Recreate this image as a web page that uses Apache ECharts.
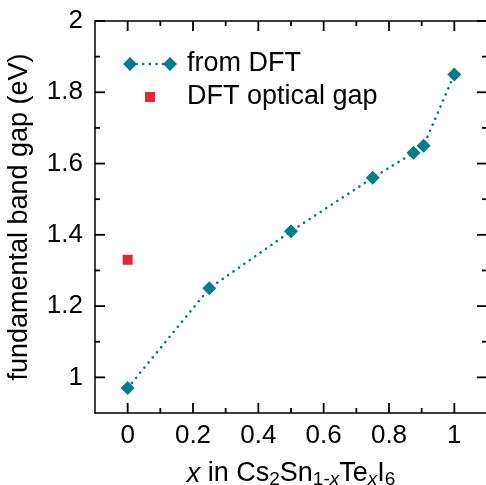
<!DOCTYPE html>
<html>
<head>
<meta charset="utf-8">
<script src="https://cdn.jsdelivr.net/npm/echarts@6/dist/echarts.min.js"></script>
<style>
html,body{margin:0;padding:0;background:#fff;}
#chart{width:486px;height:485px;}
</style>
</head>
<body>
<div id="chart"></div>
<script>
// ---- data ----
var xComposition = [0, 0.25, 0.5, 0.75, 0.875, 0.906, 1];
var gapFromDFT = [0.97, 1.25, 1.41, 1.56, 1.63, 1.65, 1.85];
var opticalX = [0];
var opticalGap = [1.33];
var xMajorTicks = [0, 0.2, 0.4, 0.6, 0.8, 1];
var xMinorTicks = [0.1, 0.3, 0.5, 0.7, 0.9];
var yMajorTicks = [1, 1.2, 1.4, 1.6, 1.8, 2];
var yMinorTicks = [1.1, 1.3, 1.5, 1.7, 1.9];
var seriesNames = ['from DFT', 'DFT optical gap'];

var X_MIN = -0.1, X_MAX = 1.1, Y_MIN = 0.9, Y_MAX = 2;
var TEAL = '#067c89';
var RED = '#e3263b';
var FONT = 'Liberation Sans, Arial, Helvetica, sans-serif';
var FS = 26;
var FS_NAME = 27;
var DOTS = [0.1, 6.5];
var MAJOR_LEN = 10, MINOR_LEN = 5, TICK_W = 1.8;

function lineOnly(){ return {show: true, onZero: false, lineStyle: {color: '#000', width: 1.5}}; }

var chart = echarts.init(document.getElementById('chart'), null, {renderer: 'canvas'});

var legendGraphic = [
  {type: 'line', z: 100, shape: {x1: 130, y1: 64, x2: 170, y2: 64}, style: {stroke: TEAL, lineWidth: 2.6, lineDash: DOTS, lineCap: 'round'}},
  {type: 'polygon', z: 100, shape: {points: [[130, 57], [137, 64], [130, 71], [123, 64]]}, style: {fill: TEAL}},
  {type: 'polygon', z: 100, shape: {points: [[170, 57], [177, 64], [170, 71], [163, 64]]}, style: {fill: TEAL}},
  {type: 'text', z: 100, left: 187, top: 50, style: {text: seriesNames[0], fontSize: FS_NAME, fontFamily: FONT, fill: '#000'}},
  {type: 'rect', z: 100, shape: {x: 145, y: 92, width: 10, height: 10}, style: {fill: RED}},
  {type: 'text', z: 100, left: 187, top: 83, style: {text: seriesNames[1], fontSize: FS_NAME, fontFamily: FONT, fill: '#000'}}
];

var option = {
  animation: false,
  backgroundColor: '#fff',
  grid: {left: 95, top: 21, width: 392, height: 392, containLabel: false, outerBoundsMode: 'none'},
  xAxis: [
    {
      type: 'value', position: 'bottom', min: X_MIN, max: X_MAX,
      axisLine: lineOnly(), axisTick: {show: false}, splitLine: {show: false},
      axisLabel: {show: true, customValues: xMajorTicks, fontSize: FS, fontFamily: FONT, color: '#000', margin: 10},
      name: '{i|x} in Cs{s|2}Sn{s|1-}{si|x}Te{si|x}I{s|6}',
      nameLocation: 'middle', nameGap: 46,
      nameTextStyle: {
        fontSize: FS_NAME, fontFamily: FONT, color: '#000',
        rich: {
          i: {fontSize: FS_NAME, fontStyle: 'italic', fontFamily: FONT, color: '#000', lineHeight: 30},
          s: {fontSize: 19, fontFamily: FONT, color: '#000', verticalAlign: 'bottom', lineHeight: 13},
          si: {fontSize: 19, fontStyle: 'italic', fontFamily: FONT, color: '#000', verticalAlign: 'bottom', lineHeight: 13}
        }
      }
    },
    {
      type: 'value', position: 'top', min: X_MIN, max: X_MAX,
      axisLine: lineOnly(), axisTick: {show: false}, axisLabel: {show: false}, splitLine: {show: false}
    }
  ],
  yAxis: [
    {
      type: 'value', position: 'left', min: Y_MIN, max: Y_MAX,
      axisLine: lineOnly(), axisTick: {show: false}, splitLine: {show: false},
      axisLabel: {show: true, customValues: yMajorTicks, fontSize: FS, fontFamily: FONT, color: '#000', margin: 12},
      name: 'fundamental band gap (eV)', nameLocation: 'middle', nameGap: 62,
      nameTextStyle: {fontSize: FS_NAME, fontFamily: FONT, color: '#000'}
    },
    {
      type: 'value', position: 'right', min: Y_MIN, max: Y_MAX,
      axisLine: lineOnly(), axisTick: {show: false}, axisLabel: {show: false}, splitLine: {show: false}
    }
  ],
  series: [
    {
      name: seriesNames[0], type: 'line',
      data: xComposition.map(function(x, i){ return [x, gapFromDFT[i]]; }),
      symbol: 'diamond', symbolSize: 14,
      itemStyle: {color: TEAL, opacity: 1},
      lineStyle: {color: TEAL, width: 2.6, type: DOTS, cap: 'round'},
      z: 3
    },
    {
      name: seriesNames[1], type: 'scatter',
      data: opticalX.map(function(x, i){ return [x, opticalGap[i]]; }),
      symbol: 'rect', symbolSize: 10,
      itemStyle: {color: RED, opacity: 1},
      z: 3
    }
  ],
  graphic: legendGraphic
};
chart.setOption(option);

// inward tick marks on all four spines, placed through the axes' own scales
var px = function(v){ return chart.convertToPixel({xAxisIndex: 0}, v); };
var py = function(v){ return chart.convertToPixel({yAxisIndex: 0}, v); };
var yBottom = py(Y_MIN), yTop = py(Y_MAX), xLeft = px(X_MIN), xRight = px(X_MAX);
var ticks = [];
function tickLine(x1, y1, x2, y2){
  ticks.push({type: 'line', z: 100, silent: true, shape: {x1: x1, y1: y1, x2: x2, y2: y2}, style: {stroke: '#000', lineWidth: TICK_W}});
}
function addX(values, len){
  values.forEach(function(v){
    var x = px(v);
    tickLine(x, yBottom, x, yBottom - len);
    tickLine(x, yTop, x, yTop + len);
  });
}
function addY(values, len){
  values.forEach(function(v){
    var y = py(v);
    tickLine(xLeft, y, xLeft + len, y);
    tickLine(xRight, y, xRight - len, y);
  });
}
addX(xMajorTicks, MAJOR_LEN);
addX(xMinorTicks, MINOR_LEN);
addY(yMajorTicks, MAJOR_LEN);
addY(yMinorTicks, MINOR_LEN);
chart.setOption({graphic: legendGraphic.concat(ticks)});
</script>
</body>
</html>
